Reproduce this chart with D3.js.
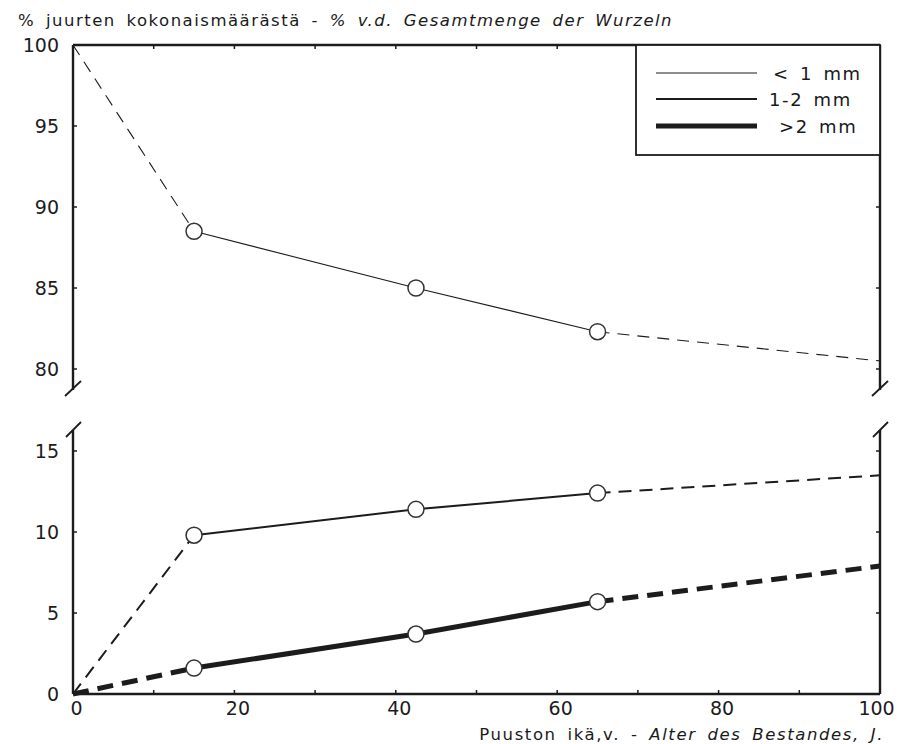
<!DOCTYPE html>
<html><head><meta charset="utf-8">
<script src="https://cdn.jsdelivr.net/npm/d3@7"></script>
<style>body{margin:0;background:#fff}text{font-family:"DejaVu Sans",sans-serif;fill:#1a1a1a}</style>
</head><body><svg id="c" width="899" height="744"></svg>
<script>
// Data
const ages = [0, 15, 42.5, 65, 100];
const fine = [100, 88.5, 85.0, 82.3, 80.5];      // < 1 mm
const medium = [0, 9.8, 11.4, 12.4, 13.5];       // 1-2 mm
const coarse = [0, 1.6, 3.7, 5.7, 7.9];          // > 2 mm
const seriesNames = ["< 1 mm", "1-2 mm", ">2 mm"];
const xTickLabels = [0, 20, 40, 60, 80, 100];
const upperTicks = [80, 85, 90, 95, 100];
const lowerTicks = [0, 5, 10, 15];

const svg = d3.select("#c");
const ink = "#1c1c1c";
const L = 73, R = 880;
const x = d3.scaleLinear().domain([0, 100]).range([L, R]);
const yU = d3.scaleLinear().domain([80, 100]).range([369, 45]);
const yL = d3.scaleLinear().domain([0, 15]).range([694, 451]);
const upTop = yU(100), upBot = 390, loTop = 430, loBot = yL(0);

const g = svg.append("g");
// frame lines
g.append("line").attr("x1", L).attr("x2", R).attr("y1", upTop).attr("y2", upTop).attr("stroke", ink).attr("stroke-width", 2.4);
g.append("line").attr("x1", L).attr("x2", R).attr("y1", loBot).attr("y2", loBot).attr("stroke", ink).attr("stroke-width", 2.4);
[L, R].forEach(xx => {
  g.append("line").attr("x1", xx).attr("x2", xx).attr("y1", upTop).attr("y2", upBot).attr("stroke", ink).attr("stroke-width", 2.4);
  g.append("line").attr("x1", xx).attr("x2", xx).attr("y1", loTop).attr("y2", loBot).attr("stroke", ink).attr("stroke-width", 2.4);
  // break slashes
  g.append("line").attr("x1", xx - 8).attr("x2", xx + 8).attr("y1", upBot + 6).attr("y2", upBot - 9).attr("stroke", ink).attr("stroke-width", 1.8);
  g.append("line").attr("x1", xx - 7).attr("x2", xx + 8).attr("y1", loTop + 7).attr("y2", loTop - 8).attr("stroke", ink).attr("stroke-width", 1.8);
});

// x ticks every 10, inward, top and bottom
const xt = d3.range(10, 100, 10);
xt.forEach(v => {
  g.append("line").attr("x1", x(v)).attr("x2", x(v)).attr("y1", loBot).attr("y2", loBot - 4).attr("stroke", ink).attr("stroke-width", 1.5);
  g.append("line").attr("x1", x(v)).attr("x2", x(v)).attr("y1", upTop).attr("y2", upTop + 4).attr("stroke", ink).attr("stroke-width", 1.5);
});
// x tick labels via axis
const xAxis = svg.append("g").attr("transform", `translate(0,${loBot})`)
  .call(d3.axisBottom(x).tickValues(xTickLabels).tickSize(0).tickPadding(8));
xAxis.select(".domain").remove();
xAxis.selectAll("text").attr("font-size", 19).attr("font-family", "DejaVu Sans").style("fill", ink)
  .attr("dx", d => d === 100 ? -4 : 3);

// y ticks + labels
function yAxisFor(scale, vals) {
  const a = svg.append("g").attr("transform", `translate(${L - 14},0)`)
    .call(d3.axisLeft(scale).tickValues(vals).tickSize(0).tickPadding(0));
  a.select(".domain").remove();
  a.selectAll("text").attr("font-size", 19).attr("font-family", "DejaVu Sans").style("fill", ink);
  vals.forEach(v => {
    if (v === 0 && scale === yL) return;
    if (v === 100) return;
    g.append("line").attr("x1", L).attr("x2", L + 4).attr("y1", scale(v)).attr("y2", scale(v)).attr("stroke", ink).attr("stroke-width", 1.5);
    g.append("line").attr("x1", R).attr("x2", R - 4).attr("y1", scale(v)).attr("y2", scale(v)).attr("stroke", ink).attr("stroke-width", 1.5);
  });
}
yAxisFor(yU, upperTicks);
yAxisFor(yL, lowerTicks);

// series
const series = [
  {vals: fine, y: yU, w: 1.1, dash: "12,8"},
  {vals: medium, y: yL, w: 2, dash: "13,8"},
  {vals: coarse, y: yL, w: 5, dash: "16,9"}
];
const line = d3.line();
series.forEach(s => {
  const pts = ages.map((a, i) => [x(a), s.y(s.vals[i])]);
  svg.append("path").attr("d", line(pts.slice(0, 2))).attr("fill", "none").attr("stroke", ink).attr("stroke-width", s.w).attr("stroke-dasharray", s.dash);
  svg.append("path").attr("d", line(pts.slice(1, 4))).attr("fill", "none").attr("stroke", ink).attr("stroke-width", s.w);
  svg.append("path").attr("d", line(pts.slice(3, 5))).attr("fill", "none").attr("stroke", ink).attr("stroke-width", s.w).attr("stroke-dasharray", s.dash);
});
series.forEach(s => {
  ages.slice(1, 4).forEach((a, j) => {
    svg.append("circle").attr("cx", x(a)).attr("cy", s.y(s.vals[j + 1])).attr("r", 8)
      .attr("fill", "#fff").attr("stroke", "#333").attr("stroke-width", 1.5);
  });
});

// legend
const lg = svg.append("g");
lg.append("rect").attr("x", 636).attr("y", upTop).attr("width", R - 636).attr("height", 110)
  .attr("fill", "#fff").attr("stroke", ink).attr("stroke-width", 1.8);
const legY = [73, 99, 126];
const legX = [773, 769, 779];
series.forEach((s, i) => {
  lg.append("line").attr("x1", 656).attr("x2", 757).attr("y1", legY[i]).attr("y2", legY[i]).attr("stroke", ink).attr("stroke-width", s.w);
  lg.append("text").attr("x", legX[i]).attr("y", legY[i] + 7).attr("font-size", 18).attr("letter-spacing", 1.6).attr("word-spacing", 3).text(seriesNames[i]);
});

// titles
const t = svg.append("text").attr("x", 18).attr("y", 26).attr("font-size", 16.5).attr("letter-spacing", 1.5).attr("word-spacing", 4);
t.append("tspan").text("% juurten kokonaismäärästä - ");
t.append("tspan").attr("font-style", "italic").text("% v.d. Gesamtmenge der Wurzeln");
const xt2 = svg.append("text").attr("x", 884).attr("y", 740).attr("font-size", 16.5).attr("text-anchor", "end").attr("letter-spacing", 1.6).attr("word-spacing", 4);
xt2.append("tspan").text("Puuston ikä,v. - ");
xt2.append("tspan").attr("font-style", "italic").text("Alter des Bestandes, J.");
</script></body></html>
